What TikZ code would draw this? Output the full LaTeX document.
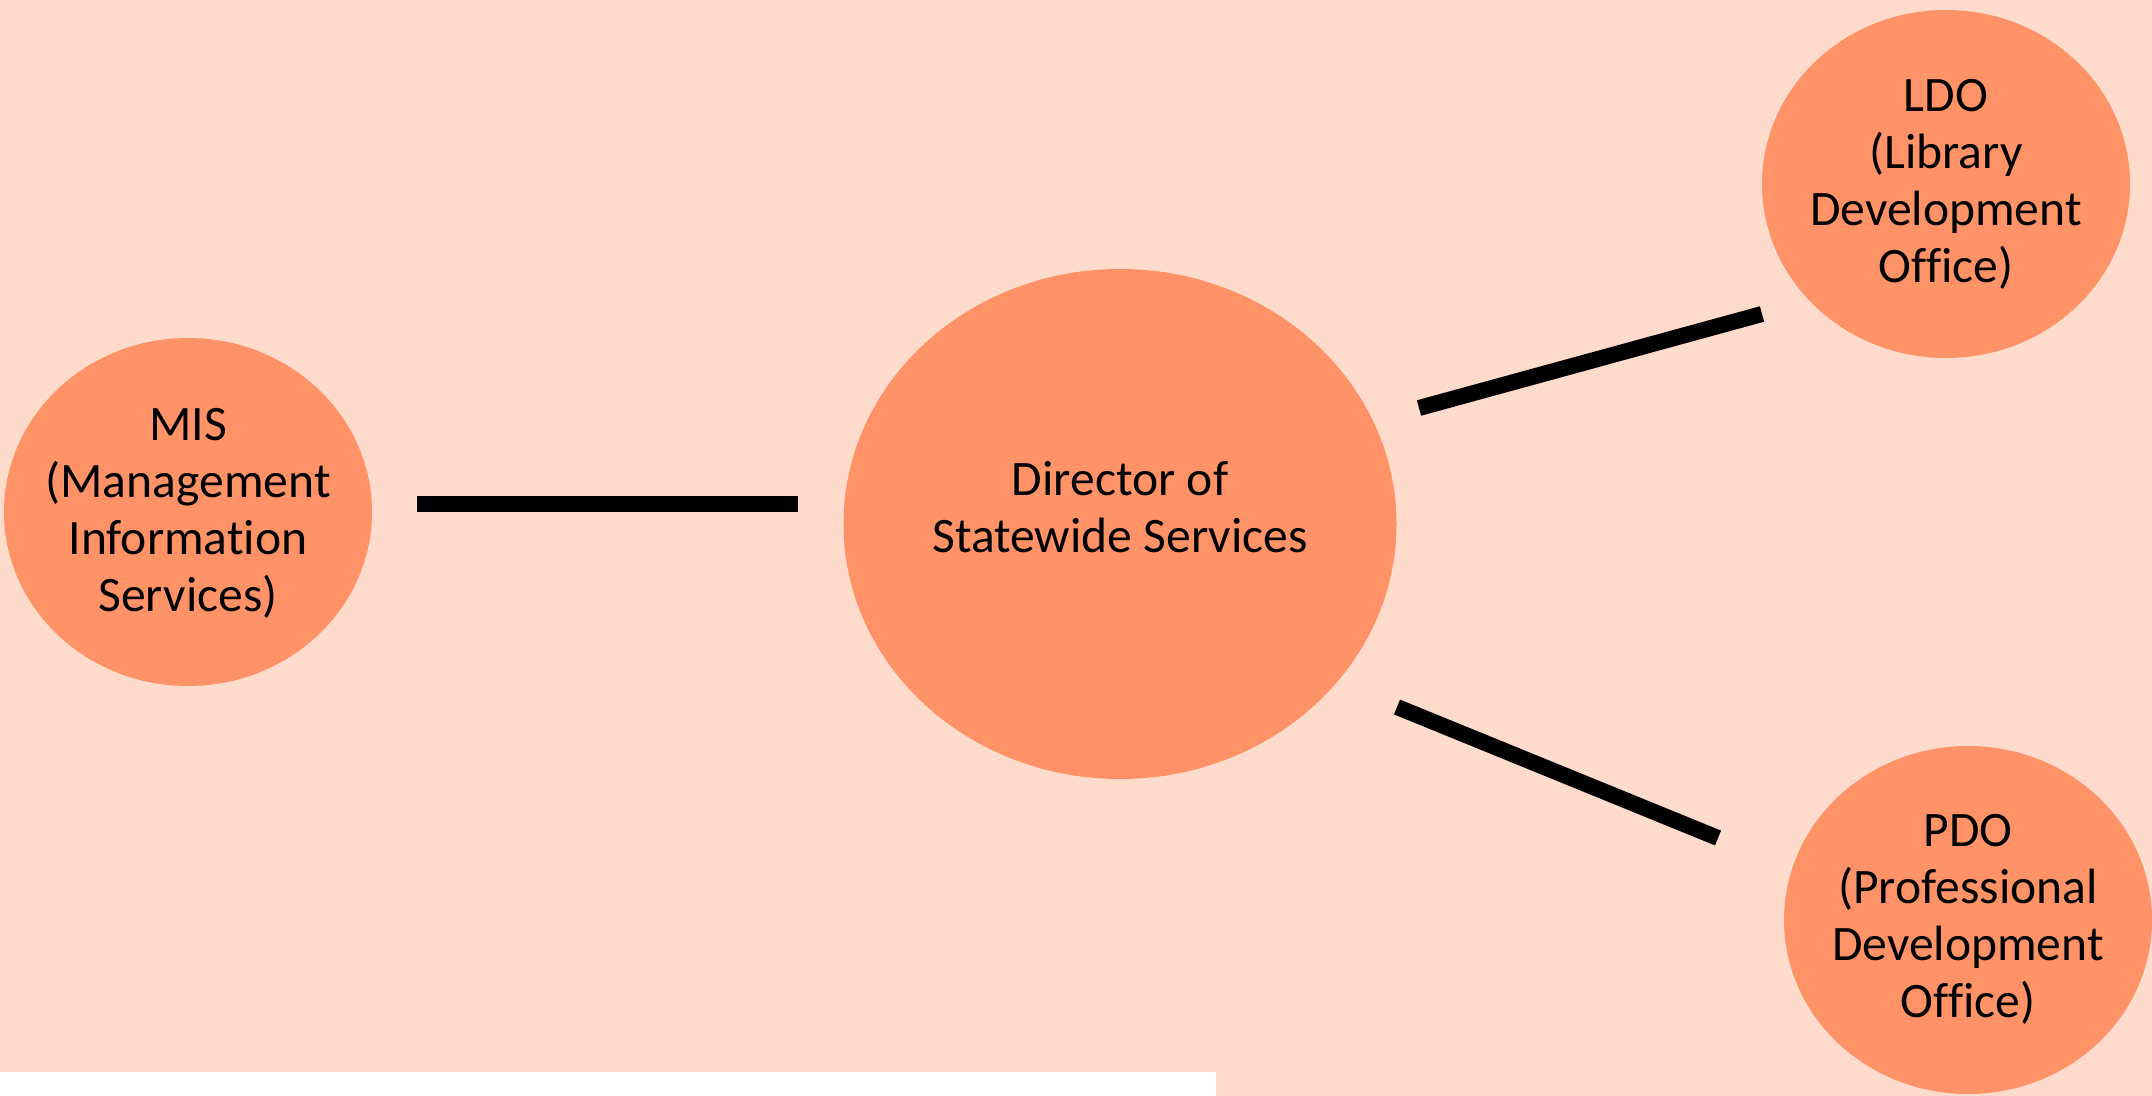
\documentclass[tikz,border=0pt]{standalone}
\usepackage{fontspec}
\setmainfont{Carlito}[Ligatures={NoCommon,NoRare,NoContextual}]
\usetikzlibrary{shapes.geometric}
\definecolor{peach}{RGB}{255,219,204}
\definecolor{bubblefill}{RGB}{255,146,103}
\tikzset{
  bubble/.style={ellipse, fill=bubblefill, draw=none, inner sep=0pt},
  txt/.style={align=center, inner sep=0pt, font=\fontsize{24.8}{28.5}\selectfont, text=black},
  link/.style={line width=8pt, black}
}
\begin{document}
\begin{tikzpicture}[x=0.5pt,y=-0.5pt]
\useasboundingbox (0,0) rectangle (2152,1096);
\fill[peach] (0,0) rectangle (2152,1096);
\fill[white] (0,1072) rectangle (1216,1096);

\node[bubble, minimum width=184pt, minimum height=174pt] (mis) at (188,512) {};
\node[txt] (mist) at (188,513) {MIS\\(Management\\Information\\Services)};

\node[bubble, minimum width=276.5pt, minimum height=255pt] (dir) at (1120,524) {};
\node[txt] (dirt) at (1120,507) {Director of\\Statewide Services};

\node[bubble, minimum width=184pt, minimum height=174pt] (ldo) at (1946,184) {};
\node[txt] (ldot) at (1946,184) {LDO\\(Library\\Development\\Office)};

\node[bubble, minimum width=184pt, minimum height=174pt] (pdo) at (1968,920) {};
\node[txt] (pdot) at (1968,919) {PDO\\(Professional\\Development\\Office)};

\coordinate (a1) at (417,504);
\coordinate (a2) at (798,504);
\coordinate (b1) at (1419,408);
\coordinate (b2) at (1762,314);
\coordinate (c1) at (1397,707);
\coordinate (c2) at (1718,838);
\draw[link] (a1) -- (a2);
\draw[link] (b1) -- (b2);
\draw[link] (c1) -- (c2);
\end{tikzpicture}
\end{document}
